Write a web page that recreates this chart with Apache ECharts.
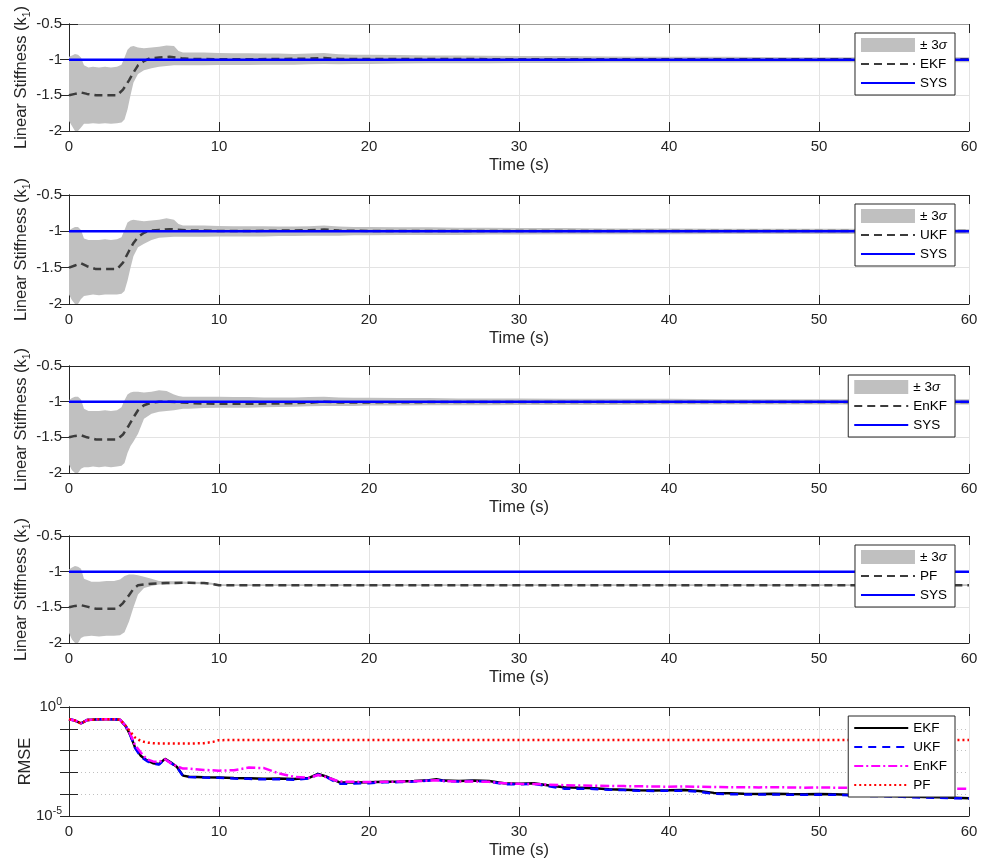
<!DOCTYPE html>
<html><head><meta charset="utf-8">
<script src="https://cdn.jsdelivr.net/npm/echarts@6/dist/echarts.min.js"></script>
<style>html,body{margin:0;padding:0;background:#fff}#c{width:984px;height:863px}</style>
</head><body><div id="c"></div>
<script>
// ---------- DATA ----------
const xTicks = [0, 10, 20, 30, 40, 50, 60];
const yTicksK = [-2, -1.5, -1, -0.5];

// shared time base for the ±3σ bands of panels 1-3
const tBand = [0,0.2,0.4,0.6,0.8,1.0,1.3,1.6,2.0,2.4,2.8,3.2,3.5,3.7,3.9,4.1,4.3,4.6,5.0,5.5,6.0,6.5,7.0,7.3,7.6,8,9,10,11,12,13,14,15,16,17,18,19,20,22,24,26,28,30,33,36,40,44,48,52,56,60];

const ekfUpper = [-0.96,-0.94,-0.92,-0.93,-0.97,-1.08,-1.11,-1.1,-1.11,-1.1,-1.11,-1.1,-1.07,-0.97,-0.86,-0.82,-0.81,-0.83,-0.84,-0.83,-0.82,-0.8,-0.81,-0.88,-0.9,-0.9,-0.9,-0.905,-0.91,-0.91,-0.915,-0.915,-0.92,-0.915,-0.905,-0.925,-0.93,-0.93,-0.935,-0.94,-0.94,-0.945,-0.95,-0.95,-0.955,-0.96,-0.96,-0.965,-0.965,-0.965,-0.965];
const ekfLower = [-1.86,-1.93,-2.03,-2.05,-1.95,-1.9,-1.9,-1.89,-1.9,-1.89,-1.9,-1.89,-1.88,-1.84,-1.7,-1.5,-1.32,-1.2,-1.15,-1.12,-1.1,-1.09,-1.08,-1.08,-1.08,-1.08,-1.08,-1.075,-1.075,-1.075,-1.07,-1.07,-1.07,-1.065,-1.06,-1.065,-1.06,-1.06,-1.055,-1.05,-1.05,-1.05,-1.045,-1.045,-1.04,-1.04,-1.04,-1.035,-1.035,-1.035,-1.035];

const ukfUpper = [-0.99,-0.96,-0.94,-0.94,-0.98,-1.1,-1.12,-1.12,-1.12,-1.11,-1.12,-1.11,-1.08,-0.98,-0.88,-0.85,-0.84,-0.85,-0.86,-0.85,-0.84,-0.82,-0.84,-0.9,-0.92,-0.92,-0.92,-0.925,-0.93,-0.93,-0.93,-0.935,-0.935,-0.93,-0.92,-0.935,-0.94,-0.94,-0.945,-0.945,-0.95,-0.95,-0.955,-0.955,-0.96,-0.96,-0.965,-0.965,-0.965,-0.97,-0.97];
const ukfLower = [-1.87,-1.95,-2.04,-2.05,-1.93,-1.89,-1.88,-1.87,-1.88,-1.87,-1.87,-1.87,-1.86,-1.82,-1.68,-1.5,-1.34,-1.22,-1.17,-1.12,-1.09,-1.08,-1.075,-1.075,-1.075,-1.075,-1.075,-1.07,-1.07,-1.07,-1.07,-1.065,-1.065,-1.06,-1.06,-1.06,-1.055,-1.055,-1.05,-1.05,-1.05,-1.045,-1.045,-1.04,-1.04,-1.04,-1.035,-1.035,-1.035,-1.035,-1.035];

const enkfUpper = [-0.98,-0.95,-0.93,-0.93,-0.97,-1.1,-1.13,-1.13,-1.13,-1.12,-1.13,-1.12,-1.08,-0.98,-0.9,-0.87,-0.86,-0.86,-0.87,-0.86,-0.84,-0.85,-0.9,-0.92,-0.93,-0.93,-0.93,-0.93,-0.935,-0.935,-0.94,-0.94,-0.94,-0.935,-0.93,-0.94,-0.945,-0.945,-0.95,-0.95,-0.955,-0.955,-0.955,-0.96,-0.96,-0.96,-0.965,-0.965,-0.965,-0.965,-0.965];
const enkfLower = [-1.88,-1.96,-2.04,-2.04,-1.94,-1.92,-1.92,-1.91,-1.92,-1.91,-1.92,-1.91,-1.9,-1.86,-1.72,-1.62,-1.56,-1.45,-1.24,-1.17,-1.14,-1.13,-1.12,-1.11,-1.1,-1.1,-1.09,-1.085,-1.085,-1.085,-1.08,-1.075,-1.07,-1.065,-1.06,-1.06,-1.06,-1.055,-1.055,-1.05,-1.05,-1.05,-1.045,-1.045,-1.045,-1.04,-1.04,-1.04,-1.04,-1.04,-1.04];

// estimates (panels 1-3)
const tEst = [0,0.4,0.8,1.2,1.8,2.5,3.2,3.6,4.0,4.3,4.6,5.0,5.4,6.0,6.7,7.5,8.2,9,10,12,14,16,17,18,20,25,30,35,40,45,50,55,60];
const ekfEst = [-1.5,-1.48,-1.46,-1.48,-1.5,-1.5,-1.5,-1.42,-1.29,-1.18,-1.08,-1.02,-0.98,-0.97,-0.96,-0.98,-0.99,-0.99,-0.995,-0.995,-0.99,-0.985,-0.975,-0.99,-0.99,-0.99,-0.995,-0.995,-0.995,-0.995,-0.995,-0.995,-0.995];
const ukfEst = [-1.5,-1.47,-1.44,-1.48,-1.52,-1.52,-1.52,-1.43,-1.27,-1.16,-1.08,-1.02,-0.99,-0.98,-0.97,-0.98,-0.99,-0.99,-0.995,-0.995,-0.99,-0.985,-0.975,-0.99,-0.995,-0.995,-0.995,-0.995,-0.995,-0.995,-0.995,-0.995,-0.995];
const enkfEst = [-1.5,-1.48,-1.47,-1.5,-1.53,-1.53,-1.53,-1.46,-1.33,-1.22,-1.12,-1.05,-1.02,-1.0,-1.0,-1.01,-1.02,-1.025,-1.03,-1.03,-1.025,-1.015,-1.0,-1.01,-1.01,-1.005,-1.005,-1.005,-1.005,-1.005,-1.005,-1.005,-1.005];

// PF (panel 4)
const tPFBand = [0,0.2,0.4,0.6,0.8,1.0,1.5,2.0,2.5,3.0,3.4,3.7,4.0,4.3,4.6,5.0,5.5,6.0,7.0,8.0,9.0,9.5,10,20,30,40,50,60];
const pfUpper = [-0.97,-0.94,-0.92,-0.93,-0.96,-1.1,-1.14,-1.14,-1.13,-1.13,-1.11,-1.06,-1.04,-1.04,-1.05,-1.07,-1.1,-1.13,-1.135,-1.14,-1.145,-1.155,-1.175,-1.175,-1.175,-1.175,-1.175,-1.175];
const pfLower = [-1.86,-1.95,-2.04,-2.05,-1.93,-1.91,-1.9,-1.91,-1.9,-1.9,-1.89,-1.85,-1.7,-1.5,-1.32,-1.23,-1.2,-1.18,-1.175,-1.17,-1.175,-1.185,-1.2,-1.2,-1.2,-1.2,-1.2,-1.2];
const tPFEst = [0,0.4,0.8,1.2,1.8,2.5,3.2,3.6,4.0,4.3,4.6,5.0,5.5,6.5,8.0,9.0,9.5,10,20,30,40,50,60];
const pfEst = [-1.5,-1.48,-1.47,-1.49,-1.52,-1.52,-1.52,-1.44,-1.33,-1.24,-1.19,-1.18,-1.17,-1.16,-1.155,-1.16,-1.17,-1.19,-1.19,-1.19,-1.19,-1.19,-1.19];

// true system value
const sysT = [0, 60];
const sysV = [-1, -1];

// RMSE (panel 5)
const tR = [0,0.4,0.8,1.2,2,3,3.4,3.8,4.1,4.4,4.8,5.2,5.6,6.0,6.4,6.8,7.2,7.6,8,9,10,11,12,13,14,15,16,16.6,17.2,18,19,20,21,22,23,24,24.5,25,26,27,28,29,30,31,32,33,34,35,36,37,38,39,40,41,42,43,44,45,46,47,48,49,50,51,52,53,54,55,56,57,58,59,60];
const rmseEKF = [0.275,0.24,0.178,0.251,0.275,0.275,0.263,0.126,0.05,0.0141,0.00562,0.00355,0.00263,0.0024,0.00417,0.00282,0.00178,7.1e-4,6.3e-4,6.0e-4,5.9e-4,5.5e-4,5.4e-4,5.1e-4,5.25e-4,5.0e-4,5.6e-4,8.5e-4,6.3e-4,3.55e-4,3.4e-4,3.55e-4,3.7e-4,3.8e-4,4.0e-4,4.4e-4,4.9e-4,4.2e-4,4.0e-4,4.2e-4,4.0e-4,3.2e-4,3.0e-4,3.2e-4,2.5e-4,2.1e-4,2.0e-4,1.86e-4,1.7e-4,1.62e-4,1.51e-4,1.48e-4,1.51e-4,1.55e-4,1.41e-4,1.15e-4,1.1e-4,1.05e-4,1.02e-4,1.05e-4,1.02e-4,1.0e-4,1.02e-4,1.0e-4,9.5e-5,8.9e-5,8.7e-5,8.3e-5,7.9e-5,7.4e-5,7.2e-5,6.9e-5,6.5e-5];
const rmseUKF = [0.275,0.24,0.178,0.251,0.275,0.275,0.263,0.126,0.048,0.0135,0.0052,0.0033,0.0025,0.0023,0.004,0.0027,0.0017,6.8e-4,6.1e-4,5.8e-4,5.7e-4,5.2e-4,5.1e-4,4.8e-4,4.9e-4,4.6e-4,5.3e-4,8.0e-4,5.9e-4,3.0e-4,3.1e-4,3.2e-4,3.5e-4,3.6e-4,3.8e-4,4.2e-4,4.6e-4,4.0e-4,3.8e-4,4.0e-4,3.8e-4,2.9e-4,2.8e-4,3.0e-4,2.3e-4,1.8e-4,1.8e-4,1.75e-4,1.6e-4,1.55e-4,1.45e-4,1.4e-4,1.45e-4,1.45e-4,1.3e-4,1.05e-4,1.0e-4,9.8e-5,9.6e-5,9.8e-5,9.5e-5,9.4e-5,9.6e-5,9.4e-5,9.0e-5,8.4e-5,8.2e-5,7.9e-5,7.4e-5,7.0e-5,6.9e-5,6.6e-5,6.3e-5];
const rmseEnKF = [0.275,0.24,0.178,0.251,0.275,0.275,0.263,0.13,0.055,0.0178,0.0079,0.004,0.0032,0.003,0.004,0.0026,0.0019,0.0015,0.0015,0.0013,0.0012,0.00126,0.00166,0.00158,8.9e-4,6.3e-4,5.6e-4,7.6e-4,6.0e-4,3.8e-4,3.7e-4,3.6e-4,3.7e-4,3.8e-4,3.9e-4,4.2e-4,4.4e-4,4.0e-4,3.8e-4,3.8e-4,3.7e-4,3.2e-4,3.0e-4,2.9e-4,2.75e-4,2.6e-4,2.5e-4,2.45e-4,2.4e-4,2.35e-4,2.3e-4,2.25e-4,2.2e-4,2.25e-4,2.2e-4,2.15e-4,2.1e-4,2.1e-4,2.05e-4,2.1e-4,2.05e-4,2.0e-4,2.05e-4,2.0e-4,1.95e-4,1.95e-4,1.9e-4,1.9e-4,1.85e-4,1.85e-4,1.8e-4,1.8e-4,1.75e-4];
const tPFr = [0,0.4,0.8,1.2,2,3,3.4,3.8,4.1,4.4,4.8,5.2,5.6,6,7,8,9,9.6,10,15,20,30,40,50,60];
const rmsePF = [0.275,0.24,0.178,0.251,0.275,0.275,0.263,0.132,0.071,0.04,0.027,0.0234,0.0219,0.0214,0.0209,0.0209,0.0219,0.0251,0.0302,0.0309,0.0309,0.0309,0.0309,0.0309,0.0309];

// ---------- CHART ----------
const FONT = "'Liberation Sans', Arial, Helvetica, sans-serif";
const AX = '#262626';
const GRIDC = '#e3e3e3';
const pair = (xs, ys) => xs.map((x, i) => [x, ys[i]]);

const gridDefs = [[24,107],[195,109],[366,107],[536,107],[707,109]];
const grid = gridDefs.map(g => ({left: 69, width: 900, top: g[0], height: g[1]}));

const xAxis = [], yAxis = [], series = [], legend = [];
const strip = n => n.replace(/^[^:]*:/, '').replace('σ', '{i|σ}');

gridDefs.forEach((g, i) => {
  const isLog = i === 4;
  xAxis.push({
    type: 'value', gridIndex: i, min: 0, max: 60, interval: 10,
    name: 'Time (s)', nameLocation: 'middle', nameGap: 26, nameMoveOverlap: false,
    nameTextStyle: {fontFamily: FONT, fontSize: 16.5, color: AX},
    axisLine: {lineStyle: {color: AX, width: 1}},
    axisTick: {inside: true, length: 9, lineStyle: {color: AX}},
    axisLabel: {fontFamily: FONT, fontSize: 15, color: AX, margin: 8},
    splitLine: {show: true, lineStyle: {color: GRIDC, width: 1}}
  });
  xAxis.push({
    type: 'value', gridIndex: i, min: 0, max: 60, interval: 10, position: 'top',
    axisLine: {lineStyle: {color: i === 0 ? '#999' : AX, width: 1}},
    axisTick: {inside: true, length: 9, lineStyle: {color: AX}},
    axisLabel: {show: false}, splitLine: {show: false}
  });
  if (!isLog) {
    yAxis.push({
      type: 'value', gridIndex: i, min: -2, max: -0.5, interval: 0.5,
      name: 'Linear Stiffness (k{s|1})', nameLocation: 'middle', nameGap: 36, nameMoveOverlap: false,
      nameTextStyle: {fontFamily: FONT, fontSize: 16.5, color: AX,
        rich: {s: {fontFamily: FONT, fontSize: 10.5, color: AX, verticalAlign: 'bottom', lineHeight: 24}}},
      axisLine: {show: true, lineStyle: {color: AX}},
      axisTick: {show: true, inside: true, length: 9, lineStyle: {color: AX}},
      axisLabel: {fontFamily: FONT, fontSize: 15, color: AX, margin: 7},
      splitLine: {show: true, lineStyle: {color: GRIDC, width: 1}}
    });
    yAxis.push({
      type: 'value', gridIndex: i, min: -2, max: -0.5, interval: 0.5, position: 'right',
      axisLine: {show: true, lineStyle: {color: AX}},
      axisTick: {show: true, inside: true, length: 9, lineStyle: {color: AX}},
      axisLabel: {show: false}, splitLine: {show: false}
    });
  } else {
    yAxis.push({
      type: 'log', logBase: 10, gridIndex: i, min: 1e-5, max: 1,
      name: 'RMSE', nameLocation: 'middle', nameGap: 35, nameMoveOverlap: false,
      nameTextStyle: {fontFamily: FONT, fontSize: 16.5, color: AX},
      axisLine: {show: true, lineStyle: {color: AX}},
      axisTick: {show: true, inside: true, length: 9, lineStyle: {color: AX}},
      axisLabel: {fontFamily: FONT, fontSize: 15, color: AX, margin: 7,
        formatter: v => { const e = Math.round(Math.log10(v)); return (e === 0 || e === -5) ? '10{sup|' + e + '}' : ''; },
        rich: {sup: {fontFamily: FONT, fontSize: 10.5, color: AX, verticalAlign: 'top', padding: [0, 0, 9, 0]}}},
      splitLine: {show: true, lineStyle: {color: '#c0c0c0', width: 1, type: [1, 3]}}
    });
    yAxis.push({
      type: 'log', logBase: 10, gridIndex: i, min: 1e-5, max: 1, position: 'right',
      axisLine: {show: true, lineStyle: {color: AX}},
      axisTick: {show: true, inside: true, length: 9, lineStyle: {color: AX}},
      axisLabel: {show: false}, splitLine: {show: false}
    });
  }
});

const BAND = '#c0c0c0';
const EST = '#3c3c3c';
function kPanel(i, tb, lo, hi, te, est, estName) {
  const xi = i * 2, yi = i * 2;
  const p = 'p' + i + ':';
  // ±3σ band: polygon between lower and upper bounds, placed with the axis scales
  series.push({
    type: 'custom', name: p + '± 3σ', xAxisIndex: xi, yAxisIndex: yi,
    data: tb.map((t, k) => [t, lo[k], hi[k]]),
    encode: {x: 0, y: [1, 2]},
    itemStyle: {color: BAND}, silent: true, z: 1,
    renderItem: (params, api) => {
      if (params.dataIndex !== 0) return null;
      const cs = params.coordSys;
      const up = tb.map((t, k) => api.coord([t, hi[k]]));
      const dn = tb.map((t, k) => api.coord([t, lo[k]])).reverse();
      const pts = up.concat(dn).map(q => [q[0], Math.max(cs.y, Math.min(cs.y + cs.height, q[1]))]);
      return {type: 'polygon', shape: {points: pts}, style: {fill: BAND, stroke: null}};
    }
  });
  series.push({
    type: 'line', name: p + estName, xAxisIndex: xi, yAxisIndex: yi, data: pair(te, est),
    symbol: 'none', lineStyle: {color: EST, width: 2.5, type: [8, 5]}, itemStyle: {color: EST}, z: 2
  });
  series.push({
    type: 'line', name: p + 'SYS', xAxisIndex: xi, yAxisIndex: yi, data: pair(sysT, sysV),
    symbol: 'none', lineStyle: {color: '#0000ff', width: 2.5}, itemStyle: {color: '#0000ff'}, z: 3
  });
  legend.push(makeLegend(gridDefs[i][0] + 9, [
    {name: p + '± 3σ', icon: 'rect', itemStyle: {color: BAND, opacity: 1}},
    p + estName, p + 'SYS']));
}
function makeLegend(top, data) {
  return {
    right: 29, top: top, orient: 'vertical', data: data,
    itemWidth: 54, itemHeight: 14, itemGap: 5, padding: [5, 8, 5, 5],
    borderColor: AX, borderWidth: 1, backgroundColor: '#fff', selectedMode: false,
    itemStyle: {opacity: 0},
    formatter: strip,
    textStyle: {fontFamily: FONT, fontSize: 13.5, color: '#000',
      rich: {i: {fontFamily: FONT, fontSize: 13.5, fontStyle: 'italic', color: '#000'}}}
  };
}

kPanel(0, tBand, ekfLower, ekfUpper, tEst, ekfEst, 'EKF');
kPanel(1, tBand, ukfLower, ukfUpper, tEst, ukfEst, 'UKF');
kPanel(2, tBand, enkfLower, enkfUpper, tEst, enkfEst, 'EnKF');
kPanel(3, tPFBand, pfLower, pfUpper, tPFEst, pfEst, 'PF');

const rS = [
  ['EKF', tR, rmseEKF, '#000000', 'solid'],
  ['UKF', tR, rmseUKF, '#0000ff', [8, 6]],
  ['EnKF', tR, rmseEnKF, '#ff00ff', [9, 3, 2, 3]],
  ['PF', tPFr, rmsePF, '#ff0000', [2, 3]]
];
rS.forEach(r => series.push({
  type: 'line', name: 'r:' + r[0], xAxisIndex: 8, yAxisIndex: 8, data: pair(r[1], r[2]),
  symbol: 'none', lineStyle: {color: r[3], width: 2.5, type: r[4]}, itemStyle: {color: r[3]}
}));
legend.push(makeLegend(716, rS.map(r => 'r:' + r[0])));

const chart = echarts.init(document.getElementById('c'), null, {renderer: 'canvas'});
chart.setOption({animation: false, backgroundColor: '#fff', grid, xAxis, yAxis, series, legend});
</script>
</body></html>
